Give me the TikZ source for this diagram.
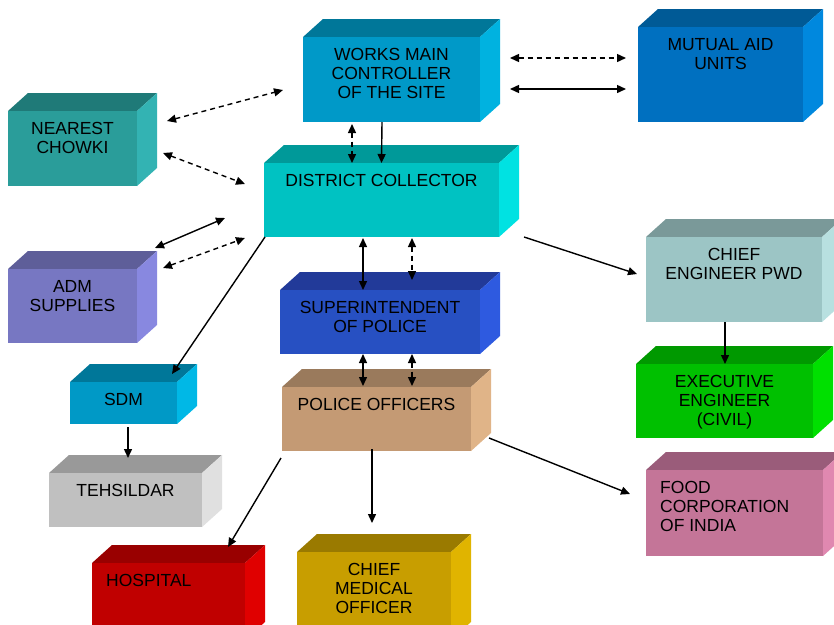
\documentclass[tikz,border=0pt]{standalone}
\usepackage{fontspec}
\setmainfont{Liberation Sans}
\usetikzlibrary{arrows.meta}
\definecolor{chowkiF}{HTML}{2A9D9A}\definecolor{chowkiT}{HTML}{1F7A78}\definecolor{chowkiS}{HTML}{33B3B3}
\definecolor{worksF}{HTML}{0099C8}\definecolor{worksT}{HTML}{007799}\definecolor{worksS}{HTML}{00B2E0}
\definecolor{mutualF}{HTML}{0070C0}\definecolor{mutualT}{HTML}{005A96}\definecolor{mutualS}{HTML}{0088DE}
\definecolor{collF}{HTML}{00C2C2}\definecolor{collT}{HTML}{009999}\definecolor{collS}{HTML}{00E2E2}
\definecolor{admF}{HTML}{7777C2}\definecolor{admT}{HTML}{5E5E99}\definecolor{admS}{HTML}{8888E0}
\definecolor{supF}{HTML}{2750C2}\definecolor{supT}{HTML}{223A99}\definecolor{supS}{HTML}{2E5AE0}
\definecolor{sdmF}{HTML}{0099C6}\definecolor{sdmT}{HTML}{007799}\definecolor{sdmS}{HTML}{00B8E6}
\definecolor{polF}{HTML}{C49A74}\definecolor{polT}{HTML}{9A7A5C}\definecolor{polS}{HTML}{E0B488}
\definecolor{pwdF}{HTML}{9CC5C5}\definecolor{pwdT}{HTML}{7A9999}\definecolor{pwdS}{HTML}{B8E0E0}
\definecolor{execF}{HTML}{00C000}\definecolor{execT}{HTML}{009900}\definecolor{execS}{HTML}{00E000}
\definecolor{tehF}{HTML}{C0C0C0}\definecolor{tehT}{HTML}{999999}\definecolor{tehS}{HTML}{E0E0E0}
\definecolor{foodF}{HTML}{C47598}\definecolor{foodT}{HTML}{9A5C7A}\definecolor{foodS}{HTML}{E088B0}
\definecolor{hospF}{HTML}{C00000}\definecolor{hospT}{HTML}{990000}\definecolor{hospS}{HTML}{E00000}
\definecolor{cmoF}{HTML}{C89E00}\definecolor{cmoT}{HTML}{9A7A00}\definecolor{cmoS}{HTML}{E0B400}
\newcommand{\boxfont}{\fontsize{17.5}{19}\selectfont}
\begin{document}
\begin{tikzpicture}[x=1pt,y=-1pt,
    cube/.style n args={3}{rectangle, fill=#1, inner sep=0pt, outer sep=0pt,
      append after command={\pgfextra{
        \fill[#2] (\tikzlastnode.north west) -- ++(20,-18) -- ([shift={(20,-18)}]\tikzlastnode.north east) -- (\tikzlastnode.north east) -- cycle;
        \fill[#3] (\tikzlastnode.north east) -- ++(20,-18) -- ([shift={(20,-18)}]\tikzlastnode.south east) -- (\tikzlastnode.south east) -- cycle;}}},
    lbl/.style ={anchor=north, yshift=-11pt, align=center, inner sep=0pt, font=\boxfont},
    lbll/.style ={anchor=north west, xshift=14pt, yshift=-11pt, align=left, inner sep=0pt, font=\boxfont},
    link/.style ={line width=1.4pt, {Triangle[length=9pt,width=8pt]}-{Triangle[length=9pt,width=8pt]}},
    to/.style ={line width=1.4pt, -{Triangle[length=9pt,width=8pt]}},
    dashlink/.style ={link, dash pattern=on 5pt off 4pt}]
   \clip (0,0) rectangle (834,624);
   \fill[white] (0,0) rectangle (834,624);
   \node[cube={chowkiF}{chowkiT}{chowkiS}, minimum width=129pt, minimum height=75pt, label={[lbl]north:NEAREST\\CHOWKI}] (chowki) at (72.5,148.5) {};
   \node[cube={worksF}{worksT}{worksS}, minimum width=177pt, minimum height=85pt, label={[lbl]north:WORKS MAIN\\CONTROLLER\\OF THE SITE}] (works) at (391.5,79.5) {};
   \node[cube={mutualF}{mutualT}{mutualS}, minimum width=165pt, minimum height=95pt, label={[lbl]north:MUTUAL AID\\UNITS}] (mutual) at (720.5,74.5) {};
   \node[cube={collF}{collT}{collS}, minimum width=235pt, minimum height=74pt, label={[lbl]north:DISTRICT COLLECTOR}] (collector) at (381.5,200) {};
   \node[cube={admF}{admT}{admS}, minimum width=129pt, minimum height=74pt, label={[lbl]north:ADM\\SUPPLIES}] (adm) at (72.5,306) {};
   \node[cube={supF}{supT}{supS}, minimum width=200pt, minimum height=64pt, label={[lbl]north:SUPERINTENDENT\\OF POLICE}] (super) at (380,322) {};
   \node[cube={sdmF}{sdmT}{sdmS}, minimum width=107pt, minimum height=42pt, label={[lbl]north:SDM}] (sdm) at (123.5,403) {};
   \node[cube={polF}{polT}{polS}, minimum width=189pt, minimum height=64pt, label={[lbl]north:POLICE OFFICERS}] (police) at (376.5,419) {};
   \node[cube={pwdF}{pwdT}{pwdS}, minimum width=176pt, minimum height=85pt, label={[lbl]north:CHIEF\\ENGINEER PWD}] (pwd) at (734,279.5) {};
   \node[cube={execF}{execT}{execS}, minimum width=177pt, minimum height=74pt, label={[lbl]north:EXECUTIVE\\ENGINEER\\(CIVIL)}] (exec) at (724.5,401) {};
   \node[cube={tehF}{tehT}{tehS}, minimum width=153pt, minimum height=54pt, label={[lbl]north:TEHSILDAR}] (tehsildar) at (125.5,500) {};
   \node[cube={foodF}{foodT}{foodS}, minimum width=177pt, minimum height=86pt, label={[lbll]north west:FOOD\\CORPORATION\\OF INDIA}] (food) at (734.5,513) {};
   \node[cube={hospF}{hospT}{hospS}, minimum width=153pt, minimum height=77pt, label={[lbll]north west:HOSPITAL}] (hospital) at (168.5,601.5) {};
   \node[cube={cmoF}{cmoT}{cmoS}, minimum width=154pt, minimum height=88pt, label={[lbl]north:CHIEF\\MEDICAL\\OFFICER}] (cmo) at (374,596) {};
   % top part
   \draw[dashlink] ([shift={(30,-21.5)}]works.east) -- ([shift={(-12,-16.5)}]mutual.west);
   \draw[link] ([shift={(30,9.5)}]works.east) -- ([shift={(-12,14.5)}]mutual.west);
   \draw[dashlink] ([shift={(-39.5,2)}]works.south) -- ([shift={(-29.5,0)}]collector.north);
   \draw[to] ([shift={(-9.5,0)}]works.south) -- (collector.north);
   \draw[dashlink] ([shift={(30,-27.5)}]chowki.east) -- ([shift={(-20,10.5)}]works.west);
   \draw[dashlink] ([shift={(26,4.5)}]chowki.east) -- ([shift={(-19,-16)}]collector.west);
   \draw[link] ([shift={(18,-21)}]adm.north east) -- ([shift={(-39,-19)}]collector.south west);
   \draw[dashlink] ([shift={(26,-1)}]adm.north east) -- ([shift={(-19,1)}]collector.south west);
   % middle part
   \draw[to] ([shift={(1,0)}]collector.south west) -- ([shift={(-5,-8)}]sdm.north east);
   \draw[link] ([shift={(-18.5,1)}]collector.south) -- ([shift={(-17,0)}]super.north);
   \draw[dashlink] ([shift={(30.5,1)}]collector.south) -- ([shift={(32,-10)}]super.north);
   \draw[link] ([shift={(-17,0)}]super.south) -- ([shift={(-13.5,-1)}]police.north);
   \draw[dashlink] ([shift={(32,0)}]super.south) -- ([shift={(35.5,-1)}]police.north);
   \draw[to] ([shift={(25,0)}]collector.south east) -- ([shift={(-9,-5.5)}]pwd.west);
   \draw[to] ([shift={(-9,0)}]pwd.south) -- ([shift={(0.5,0)}]exec.north);
   % bottom part
   \draw[to] ([shift={(4.5,3)}]sdm.south) -- ([shift={(2.5,-15)}]tehsildar.north);
   \draw[to] ([shift={(-1,7)}]police.south west) -- ([shift={(59.5,-16)}]hospital.north);
   \draw[to] ([shift={(-4.5,-2)}]police.south) -- ([shift={(-2,-29)}]cmo.north);
   \draw[to] ([shift={(18,19)}]police.east) -- ([shift={(-16,-19)}]food.west);
\end{tikzpicture}
\end{document}
